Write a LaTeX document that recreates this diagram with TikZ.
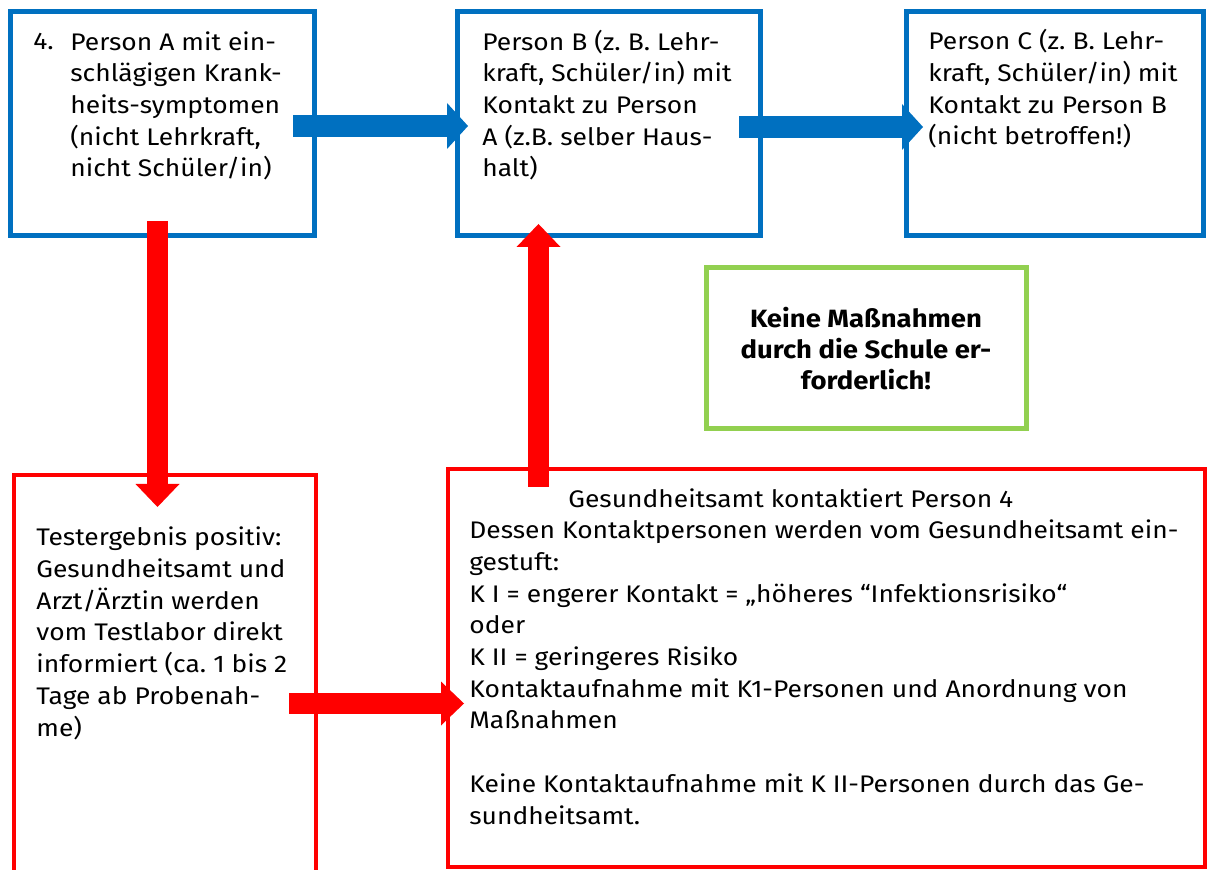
\documentclass[tikz,border=0pt]{standalone}
\usepackage{fontspec}
\setmainfont{Fira Sans}[FakeStretch=1.1]
\usetikzlibrary{arrows.meta, calc}

\definecolor{boxblue}{HTML}{0070C0}
\definecolor{boxred}{HTML}{FF0000}
\definecolor{boxgreen}{HTML}{92D050}

\begin{document}
\frenchspacing
\begin{tikzpicture}[x=0.5pt, y=-0.5pt,
        box/.style={draw, line width=2.5pt, inner sep=0pt, outer sep=0pt, anchor=north west},
        bluebox/.style={box, draw=boxblue},
        redbox/.style={box, draw=boxred, line width=2.3pt},
        txt/.style={anchor=base west, align=left, inner sep=0pt, font=\fontsize{12}{15.85}\selectfont},
        bluearrow/.style={boxblue, line width=11pt, -{Triangle[width=23pt, length=10.5pt, line width=0pt]}},
        redarrow/.style={boxred, line width=10.5pt, -{Triangle[width=22pt, length=11.5pt, line width=0pt]}}]
        \useasboundingbox (0,0) rectangle (1208,870);

        % boxes
        \node[bluebox, minimum width=152pt, minimum height=112pt] (pA) at (10,12) {};
        \node[bluebox, minimum width=151.5pt, minimum height=112pt] (pB) at (457,12) {};
        \node[bluebox, minimum width=148.5pt, minimum height=112pt] (pC) at (906,12) {};
        \node[box, draw=boxgreen, minimum width=160pt, minimum height=80.5pt, align=center,
            font=\bfseries\fontsize{12.5}{15.5}\selectfont] (noSteps) at (706,268)
            {Keine Maßnahmen\\durch die Schule er-\\forderlich!};
        \node[redbox, minimum width=151pt, minimum height=228.5pt] (test) at (14,475) {};
        \node[redbox, minimum width=378.5pt, minimum height=199pt] (health) at (448,469) {};

        % texts, placed by the baseline of their last line
        \node[txt] (numA) at (33,50) {4.};
        \node[txt] (txtA) at (70,177) {Person A mit ein-\\schlägigen Krank-\\heits-symptomen\\(nicht Lehrkraft,\\nicht Schüler/in)};
        \node[txt] (txtB) at (482,177) {Person B (z. B. Lehr-\\kraft, Schüler/in) mit\\Kontakt zu Person\\A (z.B. selber Haus-\\halt)};
        \node[txt] (txtC) at (928,145) {Person C (z. B. Lehr-\\kraft, Schüler/in) mit\\Kontakt zu Person B\\(nicht betroffen!)};
        \node[txt] (txtTest) at (36,736) {Testergebnis positiv:\\Gesundheitsamt und\\Arzt/Ärztin werden\\vom Testlabor direkt\\informiert (ca. 1 bis 2\\Tage ab Probenah-\\me)};
        \node[txt] (txtHealth) at (469,824) {\hspace*{49.5pt}Gesundheitsamt kontaktiert Person 4\\
            Dessen Kontaktpersonen werden vom Gesundheitsamt ein-\\gestuft:\\
            K I = engerer Kontakt = „höheres “Infektionsrisiko“\\oder\\K II = geringeres Risiko\\
            Kontaktaufnahme mit K1-Personen und Anordnung von\\Maßnahmen\\[15.85pt]
            Keine Kontaktaufnahme mit K II-Personen durch das Ge-\\sundheitsamt.};

        % arrows
        \draw[bluearrow, shorten <=-10.5pt, shorten >=-5.5pt] ([yshift=-1pt]pA.east) -- ([yshift=-1pt]pB.west);
        \draw[bluearrow, shorten <=-10.5pt, shorten >=-8.5pt] ([yshift=-1.5pt]pB.east) -- ([yshift=-1.5pt]pC.west);
        \draw[redarrow, shorten <=-7.5pt, shorten >=-16pt] ([xshift=-2.25pt]pA.south) -- ([xshift=-3.75pt]test.north);
        \draw[redarrow, shorten <=-13.5pt, shorten >=-8pt] (test.east) -- (test.east -| health.west);
        \draw[redarrow, shorten <=-9pt, shorten >=-6pt] ([xshift=-144pt]health.north) -- ([xshift=-35pt]pB.south);
\end{tikzpicture}
\end{document}
